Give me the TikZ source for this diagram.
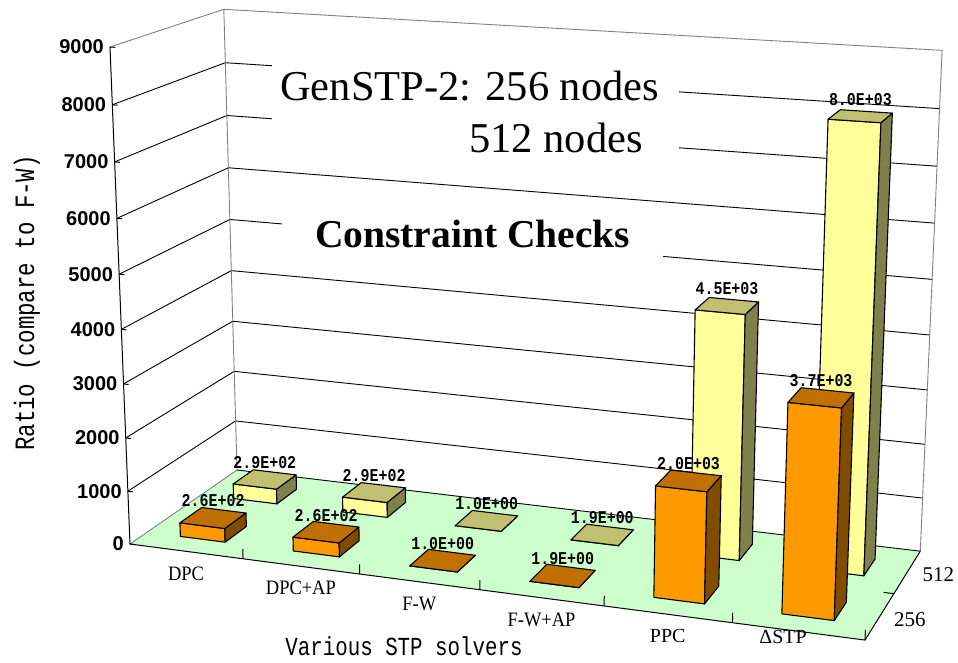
\documentclass[tikz,border=0pt]{standalone}
\usepackage{fontspec}
\setmainfont{Liberation Serif}
\newfontfamily\monofont{Liberation Mono}[FakeStretch=0.8]
\newfontfamily\valfont{Liberation Mono}[FakeStretch=0.83]
\newfontfamily\catfont{Liberation Serif}[FakeStretch=0.9]
\newfontfamily\tickfont{Liberation Sans}
\definecolor{floorgreen}{HTML}{CCFFCC}
\definecolor{ofront}{HTML}{FF9900}
\definecolor{otop}{HTML}{C07000}
\definecolor{oside}{HTML}{804D00}
\definecolor{yfront}{HTML}{FFFF99}
\definecolor{ytop}{HTML}{C0C070}
\definecolor{yside}{HTML}{80804D}
\definecolor{edgegray}{HTML}{808080}

\makeatletter
\def\chart@parse#1,#2,#3\@nil{%
  \pgfmathsetmacro\chX{(#1)/6}%
  \pgfmathsetmacro\chY{(#2)/9}%
  \pgfmathsetmacro\chZ{(#3)/2}%
  \pgfmathsetmacro\chW{1-0.091*\chX-0.05*\chY+0.083*\chZ}%
  \pgfmathsetmacro\chU{(130+656.3*\chX-25.5*\chY+126.7*\chZ)/\chW}%
  \pgfmathsetmacro\chV{-(544+37.8*\chX-499.35*\chY-35*\chZ)/\chW}%
  \pgfpoint{\chU pt}{\chV pt}%
}
\tikzdeclarecoordinatesystem{ch}{\chart@parse#1\@nil}
\makeatother

\newcommand\drawchbar[4]{%
  \pgfmathsetmacro\xa{#1+0.3}\pgfmathsetmacro\xb{#1+0.7}%
  \pgfmathsetmacro\za{#2+0.3}\pgfmathsetmacro\zb{#2+0.7}%
  \filldraw[barline, fill=#4front] (ch cs:\xa,0,\za) -- (ch cs:\xb,0,\za) -- (ch cs:\xb,#3,\za) -- (ch cs:\xa,#3,\za) -- cycle;
  \filldraw[barline, fill=#4side] (ch cs:\xb,0,\za) -- (ch cs:\xb,0,\zb) -- (ch cs:\xb,#3,\zb) -- (ch cs:\xb,#3,\za) -- cycle;
  \filldraw[barline, fill=#4top] (ch cs:\xa,#3,\za) -- (ch cs:\xb,#3,\za) -- (ch cs:\xb,#3,\zb) -- (ch cs:\xa,#3,\zb) -- cycle;
}

\tikzset{
  gridln/.style={black, line width=0.9pt},
  edgeln/.style={edgegray, line width=0.9pt},
  axisln/.style={black, line width=1pt},
  barline/.style={black, line width=1.1pt, line join=round},
  vallab/.style={font=\valfont\bfseries\fontsize{18}{18}\selectfont, anchor=base, inner sep=0pt, yshift=11pt},
  ticklab/.style={font=\tickfont\bfseries\fontsize{20}{20}\selectfont, anchor=east, inner sep=0pt, xshift=-6pt},
  catlab/.style={font=\catfont\fontsize{20.5}{20.5}\selectfont, inner sep=0pt, yshift=-22pt},
  catlabb/.style={font=\fontsize{20}{20}\selectfont, inner sep=0pt},
  serlab/.style={font=\fontsize{21}{21}\selectfont, inner sep=0pt},
  axtitle/.style={font=\monofont\fontsize{26}{26}\selectfont, inner sep=0pt},
}

\begin{document}
\begin{tikzpicture}[x=1pt, y=-1pt]
\useasboundingbox (0,0) rectangle (958,662);
\fill[white] (0,0) rectangle (958,662);

% floor
\fill[floorgreen] (ch cs:0,0,0) -- (ch cs:6,0,0) -- (ch cs:6,0,2) -- (ch cs:0,0,2) -- cycle;

% grid lines on left and back walls
\foreach \k in {1,...,8} {
  \draw[gridln] (ch cs:0,\k,0) -- (ch cs:0,\k,2) -- (ch cs:6,\k,2);
}
\draw[gridln] (ch cs:0,0,2) -- (ch cs:6,0,2);
% wall edges
\draw[edgeln] (ch cs:0,9,0) -- (ch cs:0,9,2) -- (ch cs:6,9,2) -- (ch cs:6,0,2);
\draw[edgeln] (ch cs:0,0,2) -- (ch cs:0,9,2);
\draw[edgeln] (ch cs:0,0,0) -- (ch cs:0,0,2);
% axes
\draw[axisln] (ch cs:0,9,0) -- (ch cs:0,0,0) -- (ch cs:6,0,0) -- (ch cs:6,0,2);
\foreach \k in {0,...,9} { \draw[axisln] (ch cs:0,\k,0) -- (ch cs:0.045,\k,0); }
\foreach \i in {1,...,6} { \draw[axisln] (ch cs:\i,0,0) -- (ch cs:\i,0.18,0); }
\draw[axisln] (ch cs:6,0,1) -- (ch cs:5.92,0,1);

% white boxes behind the texts
\fill[white] (272,55) rectangle (679,160);
\fill[white] (282,205) rectangle (663,262);

\node[anchor=base west, inner sep=0pt, font=\fontsize{42.5}{48}\selectfont] (t1) at (280,100) {GenSTP-2: 256 nodes};
\node[anchor=base east, inner sep=0pt, font=\fontsize{42.5}{48}\selectfont] (t2) at (643,152) {512 nodes};
\node[anchor=base west, inner sep=0pt, font=\bfseries\fontsize{39.5}{44}\selectfont] (t3) at (315,247) {Constraint Checks};

% tick labels
\foreach \k/\lab in {0/0,1/1000,2/2000,3/3000,4/4000,5/5000,6/6000,7/7000,8/8000,9/9000} {
  \node[ticklab] (tk\k) at (ch cs:0,\k,0) {\lab};
}

% bars: back row (512) then front row (256)
\foreach \i/\h in {0/0.29,1/0.29,2/0.001,3/0.0019,4/4.5,5/8.0} { \drawchbar{\i}{1}{\h}{y} }
\foreach \i/\h in {0/0.26,1/0.26,2/0.001,3/0.0019,4/2.0,5/3.7} { \drawchbar{\i}{0}{\h}{o} }

% value labels
\foreach \i/\h/\t in {0/0.29/2.9E+02,1/0.29/2.9E+02,2/0.001/1.0E+00,3/0.0019/1.9E+00,4/4.5/4.5E+03,5/8.0/8.0E+03} {
  \node[vallab] (vy\i) at (ch cs:\i+0.5,\h,1.5) {\t};
}
\foreach \i/\h/\t in {0/0.26/2.6E+02,1/0.26/2.6E+02,2/0.001/1.0E+00,3/0.0019/1.9E+00,4/2.0/2.0E+03,5/3.7/3.7E+03} {
  \node[vallab] (vo\i) at (ch cs:\i+0.5,\h,0.5) {\t};
}

% category labels
\node[catlab] (c0) at (ch cs:0.5,0,0) {DPC};
\node[catlab] (c1) at (ch cs:1.5,0,0) {DPC+AP};
\node[catlab] (c2) at (ch cs:2.5,0,0) {F-W};
\node[catlab] (c3) at (ch cs:3.5,0,0) {F-W+AP};
\node[catlabb, yshift=-22pt] (c4) at (ch cs:4.5,0,0) {PPC};
\node[catlabb, xshift=-15pt, yshift=-6pt] (c5) at (ch cs:5.5,0,0) {ΔSTP};

% series labels
\node[serlab, xshift=30pt, yshift=-3pt] (s256) at (ch cs:6,0,0.5) {256};
\node[serlab, xshift=31pt, yshift=-3pt] (s512) at (ch cs:6,0,1.5) {512};

% axis titles
\node[axtitle, rotate=90, font=\monofont\fontsize{28}{28}\selectfont] (ytitle) at (27,303) {Ratio (compare to F-W)};
\node[axtitle, anchor=base] (xtitle) at (404,655) {Various STP solvers};
\end{tikzpicture}
\end{document}
